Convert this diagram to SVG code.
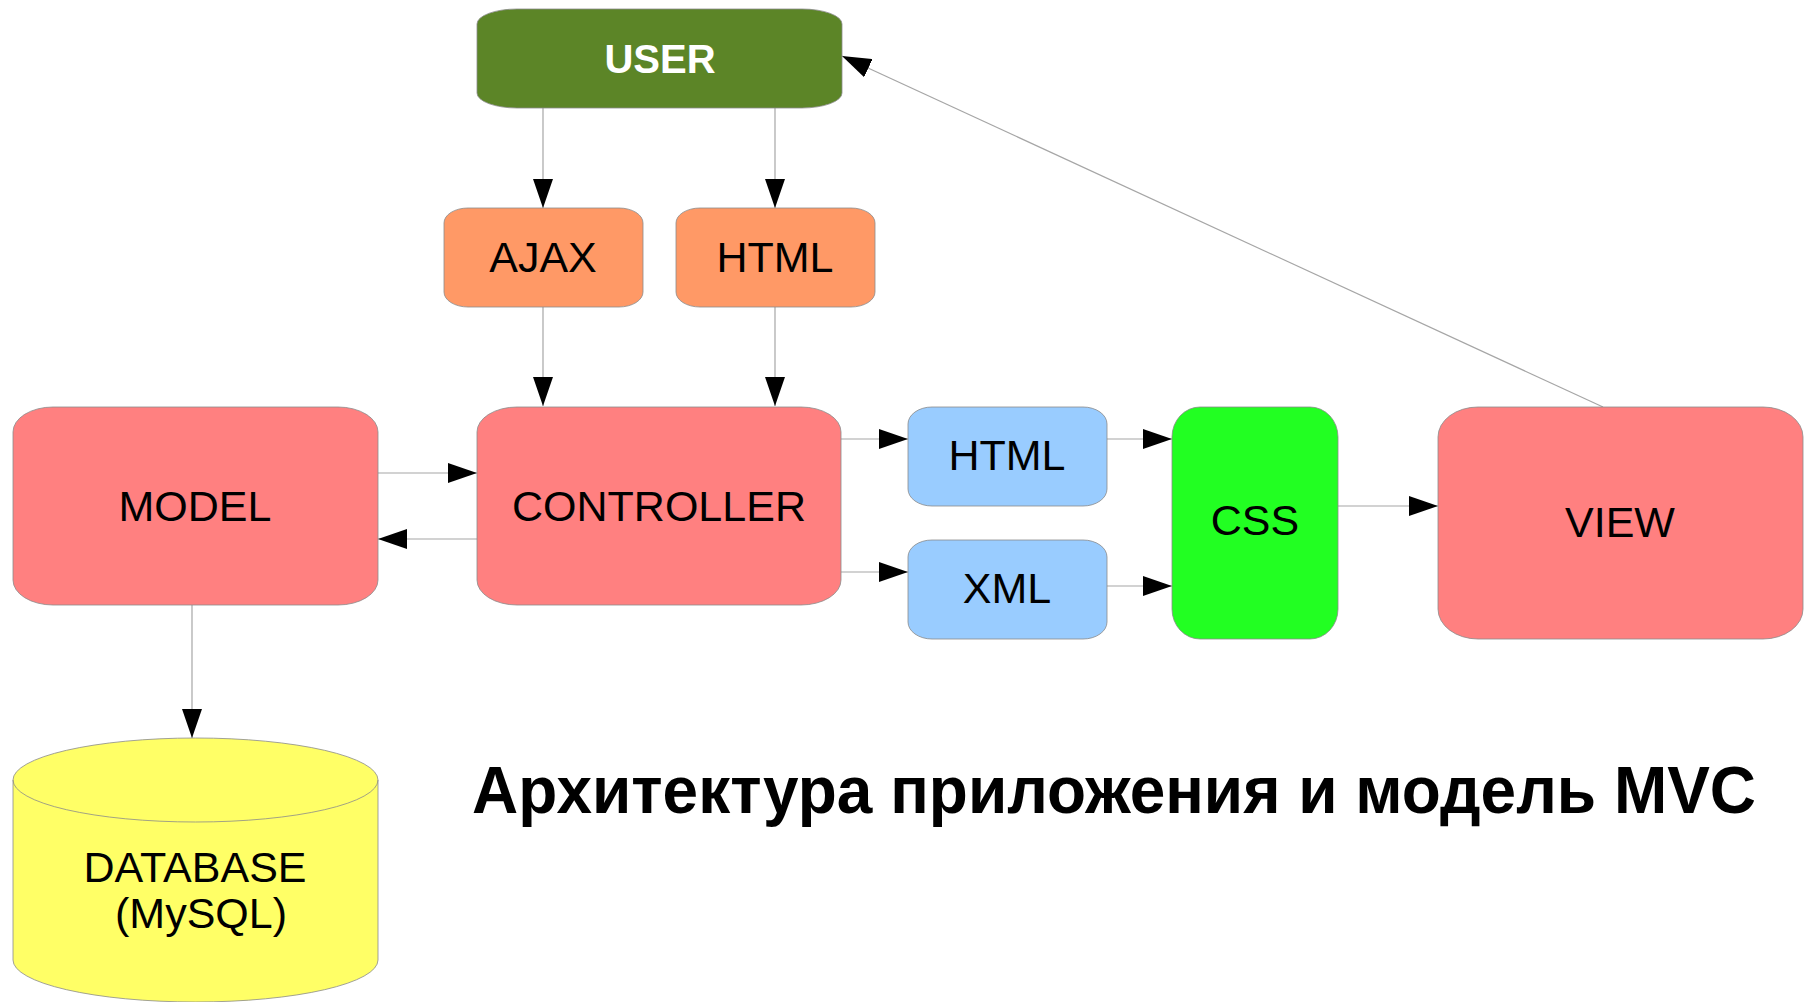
<svg xmlns="http://www.w3.org/2000/svg" width="1804" height="1002" viewBox="0 0 1804 1002">
<style>
.lbl{font-family:"Liberation Sans",Arial,sans-serif;font-size:43px;fill:#000;text-anchor:middle}
.shape{stroke:#8a8a8a;stroke-width:0.8}
.conn{stroke:#a6a6a6;stroke-width:1.2;fill:none;marker-end:url(#arr)}
</style>
<defs>
<marker id="arr" markerUnits="userSpaceOnUse" markerWidth="30" markerHeight="20" viewBox="0 0 30 20" refX="29" refY="10" orient="auto">
<path d="M0,0 L29,10 L0,20 Z" fill="#000"/>
</marker>
</defs>
<rect width="1804" height="1002" fill="#fff"/>
<g id="connectors">
<line class="conn" x1="543" y1="108" x2="543" y2="208"/>
<line class="conn" x1="775" y1="108" x2="775" y2="208"/>
<line class="conn" x1="543" y1="307" x2="543" y2="406"/>
<line class="conn" x1="775" y1="307" x2="775" y2="406"/>
<line class="conn" x1="378" y1="473" x2="477" y2="473"/>
<line class="conn" x1="477" y1="539" x2="378" y2="539"/>
<line class="conn" x1="841" y1="439" x2="908" y2="439"/>
<line class="conn" x1="841" y1="572" x2="908" y2="572"/>
<line class="conn" x1="1107" y1="439" x2="1172" y2="439"/>
<line class="conn" x1="1107" y1="586" x2="1172" y2="586"/>
<line class="conn" x1="1338" y1="506" x2="1438" y2="506"/>
<line class="conn" x1="192" y1="605" x2="192" y2="738"/>
<line class="conn" x1="1603" y1="407" x2="842" y2="56"/>
</g>
<g id="user">
<rect class="shape" x="477" y="9" width="365" height="99" rx="40" ry="15" fill="#5c8527"/>
<text x="660" y="73" style="font-family:'Liberation Sans',Arial,sans-serif;font-size:40px;font-weight:bold;fill:#fff;text-anchor:middle">USER</text>
</g>
<g id="ajax">
<rect class="shape" x="444" y="208" width="199" height="99" rx="24" ry="15" fill="#ff9966"/>
<text class="lbl" x="543" y="272">AJAX</text>
</g>
<g id="html-top">
<rect class="shape" x="676" y="208" width="199" height="99" rx="24" ry="15" fill="#ff9966"/>
<text class="lbl" x="775" y="272">HTML</text>
</g>
<g id="model">
<rect class="shape" x="13" y="407" width="365" height="198" rx="40" ry="25" fill="#ff8080"/>
<text class="lbl" x="195" y="521">MODEL</text>
</g>
<g id="controller">
<rect class="shape" x="477" y="407" width="364" height="198" rx="40" ry="25" fill="#ff8080"/>
<text class="lbl" x="659" y="521">CONTROLLER</text>
</g>
<g id="html-out">
<rect class="shape" x="908" y="407" width="199" height="99" rx="24" ry="17" fill="#99ccff"/>
<text class="lbl" x="1007" y="470">HTML</text>
</g>
<g id="xml-out">
<rect class="shape" x="908" y="540" width="199" height="99" rx="24" ry="17" fill="#99ccff"/>
<text class="lbl" x="1007" y="603">XML</text>
</g>
<g id="css">
<rect class="shape" x="1172" y="407" width="166" height="232" rx="28" ry="30" fill="#22ff22"/>
<text class="lbl" x="1255" y="535">CSS</text>
</g>
<g id="view">
<rect class="shape" x="1438" y="407" width="365" height="232" rx="40" ry="30" fill="#ff8080"/>
<text class="lbl" x="1620" y="537">VIEW</text>
</g>
<g id="database">
<path class="shape" d="M13,780 L13,960 A182.5,42 0 0 0 378,960 L378,780 A182.5,42 0 0 0 13,780 Z" fill="#ffff66"/>
<path class="shape" d="M13,780 A182.5,42 0 0 0 378,780" fill="none"/>
<text class="lbl" x="195" y="882">DATABASE</text>
<text class="lbl" x="201" y="928">(MySQL)</text>
</g>
<text x="472" y="813" textLength="1284" lengthAdjust="spacingAndGlyphs" style="font-family:'Liberation Sans',Arial,sans-serif;font-size:66px;font-weight:bold;fill:#000">Архитектура приложения и модель MVC</text>
</svg>
